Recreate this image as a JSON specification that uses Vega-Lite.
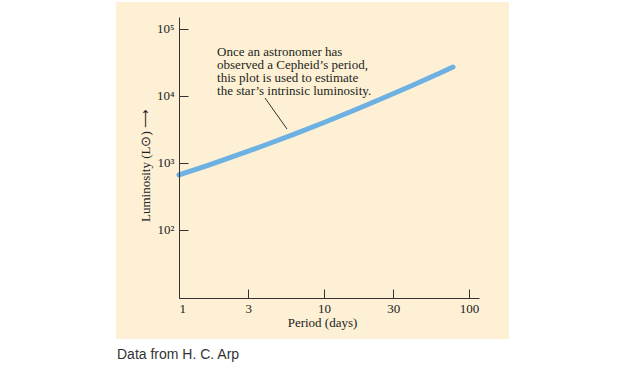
{
  "$schema": "https://vega.github.io/schema/vega-lite/v6.json",
  "width": 300,
  "height": 281,
  "autosize": {"type": "none"},
  "padding": {"left": 179, "top": 17, "right": 146, "bottom": 67},
  "background": "white",
  "config": {"view": {"stroke": null}, "font": "Liberation Serif"},
  "title": {
    "text": "Data from H. C. Arp",
    "orient": "bottom",
    "anchor": "start",
    "frame": "group",
    "font": "Liberation Sans",
    "fontSize": 14,
    "fontWeight": "normal",
    "color": "#333333",
    "dx": -62,
    "offset": 9
  },
  "datasets": {
    "panel": [
      {"period": 0.3677, "lum": 2.36, "period2": 188.8, "lum2": 252900}
    ],
    "curve": [
      {"period": 1, "lum": 662},
      {"period": 1.585, "lum": 923},
      {"period": 2.512, "lum": 1306},
      {"period": 3.981, "lum": 1872},
      {"period": 6.31, "lum": 2726},
      {"period": 10, "lum": 4025},
      {"period": 15.85, "lum": 6026},
      {"period": 25.12, "lum": 9160},
      {"period": 39.81, "lum": 14120},
      {"period": 63.1, "lum": 22080},
      {"period": 77.6, "lum": 27100}
    ],
    "note": [
      {"period": 1.83, "lum": 39500, "text": "Once an astronomer has\nobserved a Cepheid’s period,\nthis plot is used to estimate\nthe star’s intrinsic luminosity."}
    ],
    "leader": [
      {"period": 3.92, "lum": 9330, "period2": 5.56, "lum2": 3210}
    ]
  },
  "encoding": {
    "x": {
      "field": "period",
      "type": "quantitative",
      "scale": {"type": "log", "domain": [1, 117.2], "nice": false},
      "axis": {
        "values": [1, 3, 10, 30, 100],
        "format": "d",
        "grid": false,
        "zindex": 2,
        "domainColor": "#333333",
        "domainWidth": 1,
        "tickColor": "#333333",
        "tickWidth": 1,
        "tickSize": -9,
        "labelFont": "Liberation Serif",
        "labelFontSize": 13,
        "labelColor": "#222222",
        "labelPadding": 13,
        "title": "Period (days)",
        "titleFont": "Liberation Serif",
        "titleFontSize": 13,
        "titleFontWeight": "normal",
        "titleColor": "#222222",
        "titleX": 143,
        "titleY": 28,
        "titleAlign": "center",
        "titleBaseline": "alphabetic"
      }
    },
    "y": {
      "field": "lum",
      "type": "quantitative",
      "scale": {"type": "log", "domain": [9.66, 151000], "nice": false},
      "axis": {
        "values": [100, 1000, 10000, 100000],
        "labelExpr": "datum.value == 100 ? '10²' : datum.value == 1000 ? '10³' : datum.value == 10000 ? '10⁴' : '10⁵'",
        "grid": false,
        "zindex": 2,
        "domainColor": "#333333",
        "domainWidth": 1,
        "tickColor": "#333333",
        "tickWidth": 1,
        "tickSize": -9,
        "labelFont": "Liberation Serif",
        "labelFontSize": 13,
        "labelColor": "#222222",
        "labelPadding": 14,
        "title": "Luminosity (L⊙) ⟶",
        "titleFont": "Liberation Serif",
        "titleFontSize": 13,
        "titleFontWeight": "normal",
        "titleColor": "#222222",
        "titleAngle": -90,
        "titleX": -34,
        "titleY": 148,
        "titleAlign": "center",
        "titleBaseline": "middle"
      }
    }
  },
  "layer": [
    {
      "data": {"name": "panel"},
      "mark": {"type": "rect", "color": "#fdf0d5"},
      "encoding": {
        "x2": {"field": "period2"},
        "y2": {"field": "lum2"}
      }
    },
    {
      "data": {"name": "curve"},
      "mark": {"type": "line", "color": "#6db0e2", "strokeWidth": 5, "strokeCap": "round", "interpolate": "monotone"}
    },
    {
      "data": {"name": "leader"},
      "mark": {"type": "rule", "color": "#333333", "strokeWidth": 1},
      "encoding": {
        "x2": {"field": "period2"},
        "y2": {"field": "lum2"}
      }
    },
    {
      "data": {"name": "note"},
      "mark": {"type": "text", "align": "left", "baseline": "alphabetic", "lineBreak": "\n", "lineHeight": 13, "font": "Liberation Serif", "fontSize": 13, "color": "#231f20"},
      "encoding": {
        "text": {"field": "text"}
      }
    }
  ]
}
